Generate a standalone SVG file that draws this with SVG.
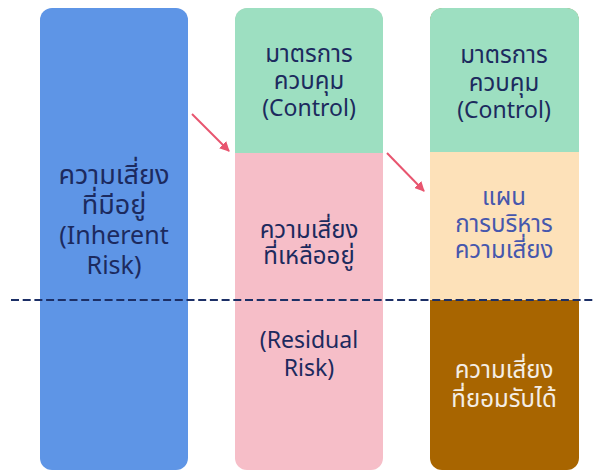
<svg xmlns="http://www.w3.org/2000/svg" width="595" height="471" viewBox="0 0 595 471">
<style>
text{font-family:"Noto Sans","Noto Sans Thai","DejaVu Sans",sans-serif;text-anchor:middle;fill:#1c2a5e}
.bt{font-size:27px}
.bl{font-size:25px}
.mt{font-size:24px}
.ml{font-size:23px}
.lt{fill:#4657ad}
.wh{fill:#f4eee6}
.arr{stroke:#e8556f;stroke-width:2;fill:none}
</style>
<defs>
<marker id="ah" viewBox="0 0 10 10" refX="9" refY="5" markerWidth="5" markerHeight="5" orient="auto" markerUnits="strokeWidth">
<path d="M0,0 L10,5 L0,10 z" fill="#e8556f"/>
</marker>
<clipPath id="c2"><rect x="235" y="8" width="148" height="470" rx="12"/></clipPath>
<clipPath id="c3"><rect x="430" y="8" width="149" height="470" rx="12"/></clipPath>
</defs>
<g id="inherent">
<rect x="40" y="8" width="148" height="462" rx="12" fill="#5e95e6"/>
<text class="bt" x="114" y="184">ความเสี่ยง</text>
<text class="bt" x="114" y="214">ที่มีอยู่</text>
<text class="bl" x="114" y="244">(Inherent</text>
<text class="bl" x="114" y="274">Risk)</text>
</g>
<g id="residual" clip-path="url(#c2)">
<rect x="235" y="8" width="148" height="462" rx="12" fill="#f6bec8"/>
<rect x="235" y="8" width="148" height="145" fill="#9ddfc1"/>
</g>
<g id="control1">
<text class="mt" x="309" y="62">มาตรการ</text>
<text class="mt" x="309" y="89">ควบคุม</text>
<text class="ml" x="309" y="116">(Control)</text>
</g>
<g id="residual-text">
<text class="mt" x="309" y="238">ความเสี่ยง</text>
<text class="mt" x="309" y="264">ที่เหลืออยู่</text>
<text class="ml" x="309" y="348">(Residual</text>
<text class="ml" x="309" y="376">Risk)</text>
</g>
<g id="column3" clip-path="url(#c3)">
<rect x="430" y="8" width="149" height="462" rx="12" fill="#a86500"/>
<rect x="430" y="8" width="149" height="144" fill="#9ddfc1"/>
<rect x="430" y="152" width="149" height="148" fill="#fde1b9"/>
</g>
<g id="control2">
<text class="mt" x="504" y="63">มาตรการ</text>
<text class="mt" x="504" y="91">ควบคุม</text>
<text class="ml" x="504" y="118">(Control)</text>
</g>
<g id="plan">
<text class="mt lt" x="504" y="205">แผน</text>
<text class="mt lt" x="504" y="232">การบริหาร</text>
<text class="mt lt" x="504" y="258">ความเสี่ยง</text>
</g>
<g id="accepted">
<text class="mt wh" x="504" y="378">ความเสี่ยง</text>
<text class="mt wh" x="504" y="407">ที่ยอมรับได้</text>
</g>
<g id="connectors">
<line class="arr" x1="192" y1="114" x2="229" y2="151" marker-end="url(#ah)"/>
<line class="arr" x1="387" y1="153" x2="424" y2="191" marker-end="url(#ah)"/>
<line x1="11" y1="300" x2="595" y2="300" stroke="#1c2f66" stroke-width="2" stroke-dasharray="8 3.7"/>
</g>
</svg>
